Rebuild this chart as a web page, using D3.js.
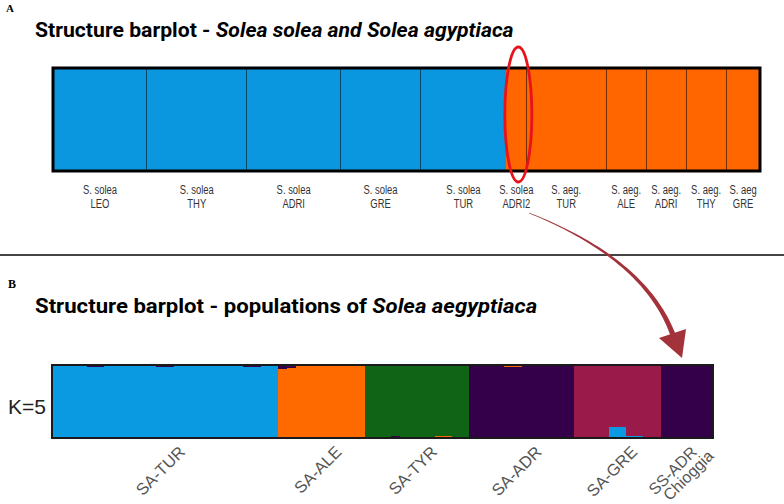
<!DOCTYPE html>
<html><head><meta charset="utf-8">
<script src="https://cdn.jsdelivr.net/npm/d3@7"></script>
<style>body{margin:0;background:#fff}svg{display:block}</style>
</head><body>
<svg id="c" width="784" height="504"></svg>
<script>
// ---- Panel A data (K=2) ----
const topSpecies = ["S. solea","S. solea","S. solea","S. solea","S. solea","S. solea","S. aeg.","S. aeg.","S. aeg.","S. aeg.","S. aeg"];
const topSites = ["LEO","THY","ADRI","GRE","TUR","ADRI2","TUR","ALE","ADRI","THY","GRE"];
const topSizes = [47,50,47,40,43,10,40,20,20,20,17];
const topSoleaShare = [1,1,1,1,1,0,0,0,0,0,0];
const topClusterColors = ["#0a97df","#ff6600"];

// ---- Panel B data (K=5) ----
const bottomPops = ["SA-TUR","SA-ALE","SA-TYR","SA-ADR","SA-GRE","SS-ADR|Chioggia"];
const bottomSizes = [26,10,12,12,10,6];
const bottomMainCluster = [0,1,2,3,4,3];
const bottomClusterColors = ["#0a9ae2","#ff6a00","#0f6416","#34004a","#9a1a4a"];
// [population, individual, cluster, q, side]
const bottomAdmix = [
  [0,4,3,0.03,"top"],[0,5,3,0.03,"top"],[0,12,3,0.03,"top"],[0,13,3,0.03,"top"],[0,22,3,0.03,"top"],[0,23,3,0.03,"top"],
  [1,0,3,0.06,"top"],[1,1,3,0.04,"top"],
  [2,3,3,0.03,"bottom"],[2,6,3,0.02,"bottom"],[2,7,3,0.02,"bottom"],[2,8,1,0.025,"bottom"],[2,9,1,0.025,"bottom"],
  [3,4,1,0.03,"top"],[3,5,1,0.03,"top"],[3,4,1,0.02,"bottom"],[3,5,1,0.02,"bottom"],
  [4,0,0,0.02,"bottom"],[4,1,0,0.02,"bottom"],[4,4,0,0.15,"bottom"],[4,5,0,0.15,"bottom"],
  [4,6,0,0.03,"bottom"],[4,7,0,0.03,"bottom"],[4,9,1,0.02,"bottom"]
];

const svg = d3.select("#c");
const sans = "'Liberation Sans', Arial, sans-serif";
const titleFont = "Roboto, 'Liberation Sans', sans-serif";
const serif = "'Liberation Serif', 'DejaVu Serif', serif";

// ---------- Panel A ----------
svg.append("text").attr("x",6).attr("y",11.5).attr("font-family",serif).attr("font-weight","bold")
  .attr("font-size",11).text("A");
const tA = svg.append("text").attr("transform","translate(35,36.5) scale(1.06,1)").attr("font-family",titleFont)
  .attr("font-weight","bold").attr("font-size",20).attr("fill","#000");
tA.append("tspan").text("Structure barplot - ");
tA.append("tspan").attr("font-style","italic").text("Solea solea and Solea agyptiaca");

const topTotal = d3.sum(topSizes);
const topStarts = [0, ...d3.cumsum(topSizes)];
const xA = d3.scaleLinear().domain([0, topTotal]).range([53, 760]);
const yA = d3.scaleLinear().domain([0, 1]).range([171, 68]);

const gA = svg.append("g").attr("shape-rendering","crispEdges");
topSizes.forEach((n, i) => {
  const x0 = xA(topStarts[i]), x1 = xA(topStarts[i+1]);
  const s = topSoleaShare[i];
  gA.append("rect").attr("x",x0).attr("width",x1-x0+0.5)
    .attr("y",yA(1)).attr("height",yA(1-s)-yA(1)).attr("fill",topClusterColors[0]);
  gA.append("rect").attr("x",x0).attr("width",x1-x0+0.5)
    .attr("y",yA(1-s)).attr("height",yA(0)-yA(1-s)).attr("fill",topClusterColors[1]);
});
topStarts.slice(1,-1).forEach((v,i) => {
  if (i === 4) return;
  gA.append("line").attr("x1",xA(v)).attr("x2",xA(v)).attr("y1",yA(1)).attr("y2",yA(0))
    .attr("stroke","rgba(0,0,0,0.55)").attr("stroke-width",1);
});
svg.append("rect").attr("x",xA(0)).attr("y",yA(1)).attr("width",xA(topTotal)-xA(0))
  .attr("height",yA(0)-yA(1)).attr("fill","none").attr("stroke","#000").attr("stroke-width",3);

topSizes.forEach((n, i) => {
  const cx = (xA(topStarts[i]) + xA(topStarts[i+1])) / 2;
  const g = svg.append("g").attr("transform",`translate(${cx},0) scale(0.7,1)`);
  g.append("text").attr("x",0).attr("y",194.5).attr("text-anchor","middle").attr("font-family",sans)
    .attr("font-size",13.5).attr("fill","#333").text(topSpecies[i]);
  g.append("text").attr("x",0).attr("y",208.5).attr("text-anchor","middle").attr("font-family",sans)
    .attr("font-size",13.5).attr("fill","#333").text(topSites[i]);
});

// red ellipse highlighting ADRI2
const adri2 = 5;
const ecx = (xA(topStarts[adri2]) + xA(topStarts[adri2+1])) / 2 + 2;
svg.append("ellipse").attr("cx",ecx).attr("cy",114.5).attr("rx",13.5).attr("ry",67.5)
  .attr("fill","none").attr("stroke","#e8121b").attr("stroke-width",2.8);

// separator
svg.append("line").attr("x1",0).attr("x2",784).attr("y1",255).attr("y2",255)
  .attr("stroke","#444").attr("stroke-width",1.8);

// ---------- Panel B ----------
svg.append("text").attr("x",8).attr("y",287.5).attr("font-family",serif).attr("font-weight","bold")
  .attr("font-size",12).text("B");
const tB = svg.append("text").attr("transform","translate(35,313.3) scale(1.08,1)").attr("font-family",titleFont)
  .attr("font-weight","bold").attr("font-size",20.5).attr("fill","#000");
tB.append("tspan").text("Structure barplot - populations of ");
tB.append("tspan").attr("font-style","italic").text("Solea aegyptiaca");

const botTotal = d3.sum(bottomSizes);
const botStarts = [0, ...d3.cumsum(bottomSizes)];
const xB = d3.scaleLinear().domain([0, botTotal]).range([52, 713]);
const yB = d3.scaleLinear().domain([0, 1]).range([438, 365]);
const gB = svg.append("g").attr("shape-rendering","crispEdges");

// population base blocks (main cluster)
bottomSizes.forEach((n, p) => {
  gB.append("rect").attr("x",xB(botStarts[p])).attr("width",xB(botStarts[p+1]) - xB(botStarts[p]) + 0.5)
    .attr("y",yB(1)).attr("height",yB(0)-yB(1)).attr("fill",bottomClusterColors[bottomMainCluster[p]]);
});
// admixture segments per individual
bottomSizes.forEach((n, p) => {
  for (let k = 0; k < n; k++) {
    const idx = botStarts[p] + k;
    const x0 = xB(idx), w = xB(idx+1) - xB(idx);
    const mine = bottomAdmix.filter(a => a[0] === p && a[1] === k);
    let lo = 0, hi = 1;
    mine.filter(a => a[4] === "bottom").forEach(a => {
      gB.append("rect").attr("x",x0).attr("width",w).attr("y",yB(lo + a[3]))
        .attr("height",yB(lo) - yB(lo + a[3])).attr("fill",bottomClusterColors[a[2]]);
      lo += a[3];
    });
    mine.filter(a => a[4] === "top").forEach(a => {
      gB.append("rect").attr("x",x0).attr("width",w).attr("y",yB(hi))
        .attr("height",yB(hi - a[3]) - yB(hi)).attr("fill",bottomClusterColors[a[2]]);
      hi -= a[3];
    });
  }
});
svg.append("rect").attr("x",xB(0)).attr("y",yB(1)).attr("width",xB(botTotal)-xB(0))
  .attr("height",yB(0)-yB(1)).attr("fill","none").attr("stroke","#1a1a1a").attr("stroke-width",2);

svg.append("text").attr("x",8).attr("y",413.5).attr("font-family",sans).attr("font-size",21)
  .attr("fill","#222").text("K=5");

bottomPops.forEach((name, p) => {
  const cx = (xB(botStarts[p]) + xB(botStarts[p+1])) / 2;
  const lines = name.split("|");
  const multi = lines.length > 1;
  const g = svg.append("g").attr("transform",`translate(${cx + (multi ? 11 : 21)},453) rotate(-45)`);
  lines.forEach((ln, j) => {
    g.append("text").attr("x", j*9).attr("y", j*14.5).attr("text-anchor","end")
      .attr("font-family",sans).attr("font-size",multi ? 16 : 16.5).attr("fill","#555").text(ln);
  });
});

// ---------- curved arrow ----------
const P0 = [529, 213], C = [645, 259], P2 = [673, 335];
const bez = t => [ (1-t)*(1-t)*P0[0] + 2*(1-t)*t*C[0] + t*t*P2[0],
                   (1-t)*(1-t)*P0[1] + 2*(1-t)*t*C[1] + t*t*P2[1] ];
const der = t => [ 2*(1-t)*(C[0]-P0[0]) + 2*t*(P2[0]-C[0]), 2*(1-t)*(C[1]-P0[1]) + 2*t*(P2[1]-C[1]) ];
const left = [], right = [];
d3.range(0, 1.0001, 0.02).forEach(t => {
  const p = bez(t), d = der(t), L = Math.hypot(d[0], d[1]);
  const nx = -d[1]/L, ny = d[0]/L, w = (0.6 + 4.6*t) / 2;
  left.push([p[0] + nx*w, p[1] + ny*w]);
  right.push([p[0] - nx*w, p[1] - ny*w]);
});
svg.append("path").attr("d", d3.line()(left.concat(right.reverse())) + "Z").attr("fill","#a3323b");
svg.append("path").attr("d", d3.line()([[659,338],[686,329],[682,358]]) + "Z").attr("fill","#a3323b");
</script>
</body></html>
